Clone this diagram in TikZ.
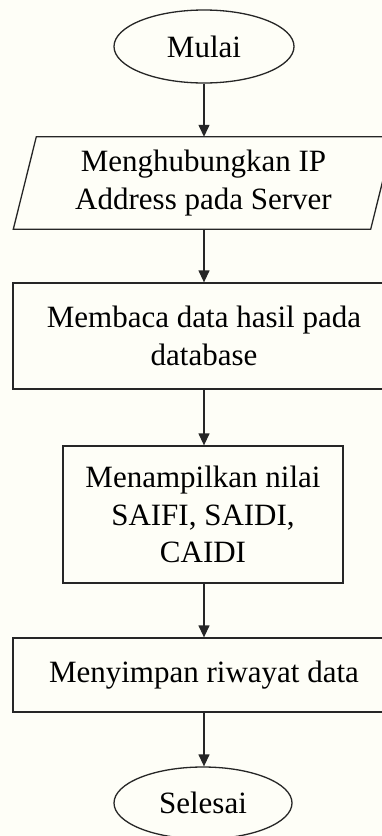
\documentclass[tikz,border=0pt]{standalone}
\usepackage{fontspec}
\setmainfont{Liberation Serif}
\usetikzlibrary{shapes.geometric,arrows.meta}
\definecolor{paper}{RGB}{254,254,247}
\tikzset{
  line/.style={draw=black!85, line width=1.3pt},
  label/.style={font=\fontsize{31pt}{37.5pt}\selectfont, align=center, inner sep=0pt},
  terminal/.style={line, label, ellipse},
  procbox/.style={line, label, rectangle},
  flow/.style={line, -{Triangle[length=12pt,width=11pt]}},
}
\begin{document}
\begin{tikzpicture}[x=1pt,y=-1pt]
  \fill[paper] (0,0) rectangle (382,836);
  \useasboundingbox (0,0) rectangle (382,836);

  \node[terminal, minimum width=180pt, minimum height=73pt] (start) at (204,46.5) {Mulai};

  % input/output step: a parallelogram traced around an invisible box
  \node[label, minimum width=357pt, minimum height=92pt] (io) at (203.5,183)
    {Menghubungkan IP\\Address pada Server};
  \draw[line] ([xshift=-11.5pt]io.south west) -- ([xshift=-11.5pt]io.south east)
    -- ([xshift=11.5pt]io.north east) -- ([xshift=11.5pt]io.north west) -- cycle;

  \node[procbox, minimum width=382pt, minimum height=106pt] (read) at (204,336)
    {Membaca data hasil pada\\database};
  \node[procbox, minimum width=280pt, minimum height=137pt] (show) at (203,514.5)
    {Menampilkan nilai\\SAIFI, SAIDI,\\CAIDI};
  \node[procbox, minimum width=382pt, minimum height=74pt] (save) at (204,675)
    {Menyimpan riwayat data};

  \node[terminal, minimum width=178pt, minimum height=72pt] (stop) at (203,803) {Selesai};

  \draw[flow] (start.south) -- (start.south |- io.north);
  \draw[flow] (io.south -| start.south) -- (start.south |- read.north);
  \draw[flow] (read.south -| start.south) -- (start.south |- show.north);
  \draw[flow] (show.south -| start.south) -- (start.south |- save.north);
  \draw[flow] (save.south -| start.south) -- (start.south |- stop.north);
\end{tikzpicture}
\end{document}
